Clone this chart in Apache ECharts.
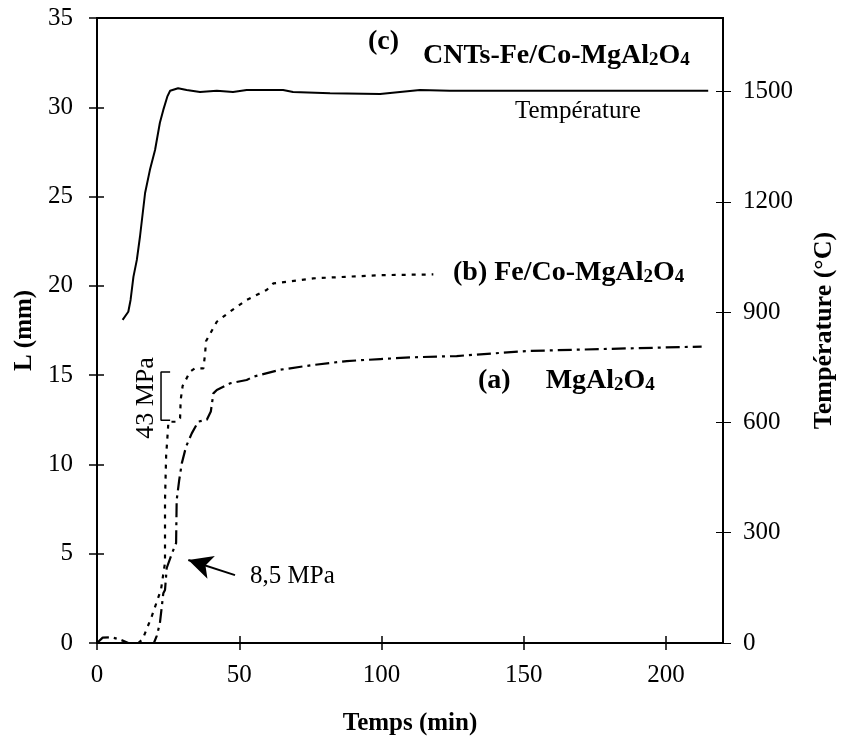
<!DOCTYPE html>
<html>
<head>
<meta charset="utf-8">
<script src="https://cdn.jsdelivr.net/npm/echarts@6/dist/echarts.min.js"></script>
<style>html,body{margin:0;padding:0;background:#fff;}#c{width:844px;height:744px;}</style>
</head>
<body>
<div id="c"></div>
<script>
// ---- data ----
var xTicks = [0, 50, 100, 150, 200];
var lTicks = [0, 5, 10, 15, 20, 25, 30, 35];
var tempTicks = [0, 300, 600, 900, 1200, 1500];

// (a) MgAl2O4 : [time (min), L (mm)]
var seriesA = [[0,0],[2,0.3],[5,0.32],[8,0.2],[11,0],[20,0],[21,0.4],[22.1,1.1],[23.3,2.78],[23.9,2.97],[24.5,4.2],[26.3,5.0],[27.8,5.6],[28.0,8.0],[28.9,9.13],[29.8,10.06],[31.3,11.0],[33.3,11.74],[35.6,12.4],[38.6,12.5],[40.0,12.96],[40.9,13.98],[42.1,14.17],[46.7,14.54],[52.6,14.73],[54.9,14.91],[64.3,15.3],[76,15.57],[87.8,15.79],[99.5,15.9],[111.2,16.0],[126.4,16.07],[151,16.35],[176.8,16.46],[212.5,16.6]];

// (b) Fe/Co-MgAl2O4 : [time (min), L (mm)]
var seriesB = [[14.5,0],[16,0.2],[19.2,1.47],[22.5,3.0],[23.9,4.5],[23.9,8.0],[24.3,10.5],[24.7,11.4],[25.1,12.39],[28.0,12.39],[29.2,12.58],[29.4,13.6],[30.1,14.4],[32.7,15.19],[34.4,15.38],[37.4,15.38],[38.0,16.22],[38.3,16.9],[42.1,17.99],[46.7,18.55],[52.6,19.21],[59.6,19.77],[62.0,20.14],[66.7,20.23],[76.0,20.42],[87.8,20.51],[99.5,20.6],[118.2,20.64]];

// (c) temperature : [time (min), T (°C)]
var seriesT = [[9.0,879],[11.0,901],[11.8,933],[12.8,996],[14.0,1042],[15.1,1105],[16.9,1224],[18.6,1287],[20.4,1341],[22.1,1415],[23.3,1450],[24.7,1486],[25.7,1502],[28.5,1509],[31.5,1504],[36.2,1499],[42.1,1502],[47.8,1499],[52.6,1504],[65.4,1504],[68.9,1499],[81.9,1495],[99.5,1493],[113.5,1504],[124,1502],[214.8,1502]];

// annotation: pressure bracket (43 MPa) and arrow (8,5 MPa)
var bracket = [[25.7,15.17],[22.5,15.17],[22.5,12.48],[25.7,12.48]];
var arrowFrom = [48.5, 3.8];
var arrowTo = [32.1, 4.65];

var FONT = 'Liberation Serif';
var chart = echarts.init(document.getElementById('c'), null, {renderer: 'canvas'});

function plain(v) { return String(v); }
function baseX(extra) {
  return Object.assign({
    type: 'value', min: 0, max: 220, position: 'bottom',
    axisLine: {show: true, onZero: false, lineStyle: {color: '#000', width: 2}},
    splitLine: {show: false}
  }, extra);
}
function baseY(extra) {
  return Object.assign({
    type: 'value', min: 0,
    axisLine: {show: true, onZero: false, lineStyle: {color: '#000', width: 2}},
    splitLine: {show: false}
  }, extra);
}
var hiddenLine = {show: false, onZero: false};

var sub = {fontFamily: FONT, fontWeight: 'bold', fontSize: 19, lineHeight: 24, verticalAlign: 'bottom', color: '#000'};
var big = {fontFamily: FONT, fontWeight: 'bold', fontSize: 28, lineHeight: 42, verticalAlign: 'bottom', color: '#000'};
var tickFont = {color: '#000', fontFamily: FONT, fontSize: 25};

var option = {
  backgroundColor: '#fff',
  animation: false,
  grid: {left: 97, right: 121, top: 18, bottom: 101, containLabel: false, outerBoundsMode: 'none',
         show: true, borderColor: '#000', borderWidth: 2},
  xAxis: [
    baseX({
      interval: 50,
      axisTick: {show: true, inside: false, length: 7, customValues: xTicks, lineStyle: {color: '#000', width: 1.5}},
      axisLabel: Object.assign({customValues: xTicks, margin: 20, formatter: plain}, tickFont),
      name: 'Temps (min)', nameLocation: 'middle', nameGap: 68,
      nameTextStyle: {fontFamily: FONT, fontWeight: 'bold', fontSize: 25, color: '#000'}
    }),
    baseX({
      interval: 50,
      axisLine: hiddenLine,
      axisTick: {show: true, inside: true, length: 7, customValues: xTicks, lineStyle: {color: '#000', width: 1.5}},
      axisLabel: {show: false}
    })
  ],
  yAxis: [
    baseY({
      position: 'left', max: 35, interval: 5,
      axisTick: {show: true, inside: false, length: 8, customValues: lTicks, lineStyle: {color: '#000', width: 1.5}},
      axisLabel: Object.assign({customValues: lTicks, margin: 24, formatter: plain}, tickFont),
      name: 'L (mm)', nameLocation: 'middle', nameGap: 59, nameRotate: 90,
      nameTextStyle: {fontFamily: FONT, fontWeight: 'bold', fontSize: 25, color: '#000'}
    }),
    baseY({
      position: 'right', max: 1700, interval: 300,
      axisTick: {show: true, inside: false, length: 8, customValues: tempTicks, lineStyle: {color: '#000', width: 1}},
      axisLabel: Object.assign({customValues: tempTicks, margin: 20, formatter: plain}, tickFont),
      name: 'Température (°C)', nameLocation: 'middle', nameGap: 88, nameRotate: 90,
      nameTextStyle: {fontFamily: FONT, fontWeight: 'bold', fontSize: 26, color: '#000'}
    }),
    baseY({
      position: 'left', max: 35, interval: 5, axisLine: hiddenLine,
      axisTick: {show: true, inside: true, length: 7, customValues: lTicks, lineStyle: {color: '#000', width: 1.5}},
      axisLabel: {show: false}
    }),
    baseY({
      position: 'right', max: 1700, interval: 300, axisLine: hiddenLine,
      axisTick: {show: true, inside: true, length: 7, customValues: tempTicks, lineStyle: {color: '#000', width: 1}},
      axisLabel: {show: false}
    })
  ],
  series: [
    {
      name: '(a) MgAl2O4', type: 'line', xAxisIndex: 0, yAxisIndex: 0, data: seriesA,
      showSymbol: false, symbol: 'none', smooth: false,
      lineStyle: {color: '#000', width: 2.2, type: [14, 5, 3, 5]},
      markLine: {
        silent: true, symbol: ['none', 'triangle'], symbolSize: [16, 20], animation: false,
        lineStyle: {color: '#000', width: 2, type: 'solid'},
        label: {show: false},
        data: [[{coord: arrowFrom, symbol: 'none'}, {coord: arrowTo, symbol: 'arrow', symbolSize: [18, 24]}]]
      }
    },
    {
      name: '(b) Fe/Co-MgAl2O4', type: 'line', xAxisIndex: 0, yAxisIndex: 0, data: seriesB,
      showSymbol: false, symbol: 'none',
      lineStyle: {color: '#000', width: 2.2, type: [4, 6]}
    },
    {
      name: 'Température', type: 'line', xAxisIndex: 0, yAxisIndex: 1, data: seriesT,
      showSymbol: false, symbol: 'none',
      lineStyle: {color: '#000', width: 2}
    },
    {
      name: 'bracket', type: 'line', xAxisIndex: 0, yAxisIndex: 0, data: bracket,
      showSymbol: false, symbol: 'none', silent: true,
      lineStyle: {color: '#000', width: 1.5}
    }
  ],
  graphic: [
    {type: 'text', left: 368, top: 28, style: {text: '(c)', font: 'bold 28px "Liberation Serif"', fill: '#000'}},
    {type: 'text', left: 423, top: 42, style: {
      text: '{b|CNTs-Fe/Co-MgAl}{s|2}{b|O}{s|4}', rich: {b: big, s: sub}}},
    {type: 'text', left: 515, top: 99, style: {text: 'Température', font: '25px "Liberation Serif"', fill: '#000'}},
    {type: 'text', left: 453, top: 259, style: {
      text: '{b|(b) Fe/Co-MgAl}{s|2}{b|O}{s|4}', rich: {b: big, s: sub}}},
    {type: 'text', left: 478, top: 367, style: {
      text: '{b|(a)     MgAl}{s|2}{b|O}{s|4}', rich: {b: big, s: sub}}},
    {type: 'text', left: 250, top: 564, style: {text: '8,5 MPa', font: '25px "Liberation Serif"', fill: '#000'}},
    {type: 'text', x: 146, y: 398, rotation: Math.PI / 2, style: {text: '43 MPa', font: '26px "Liberation Serif"', fill: '#000', align: 'center', verticalAlign: 'middle'}}
  ]
};
chart.setOption(option);
</script>
</body>
</html>
